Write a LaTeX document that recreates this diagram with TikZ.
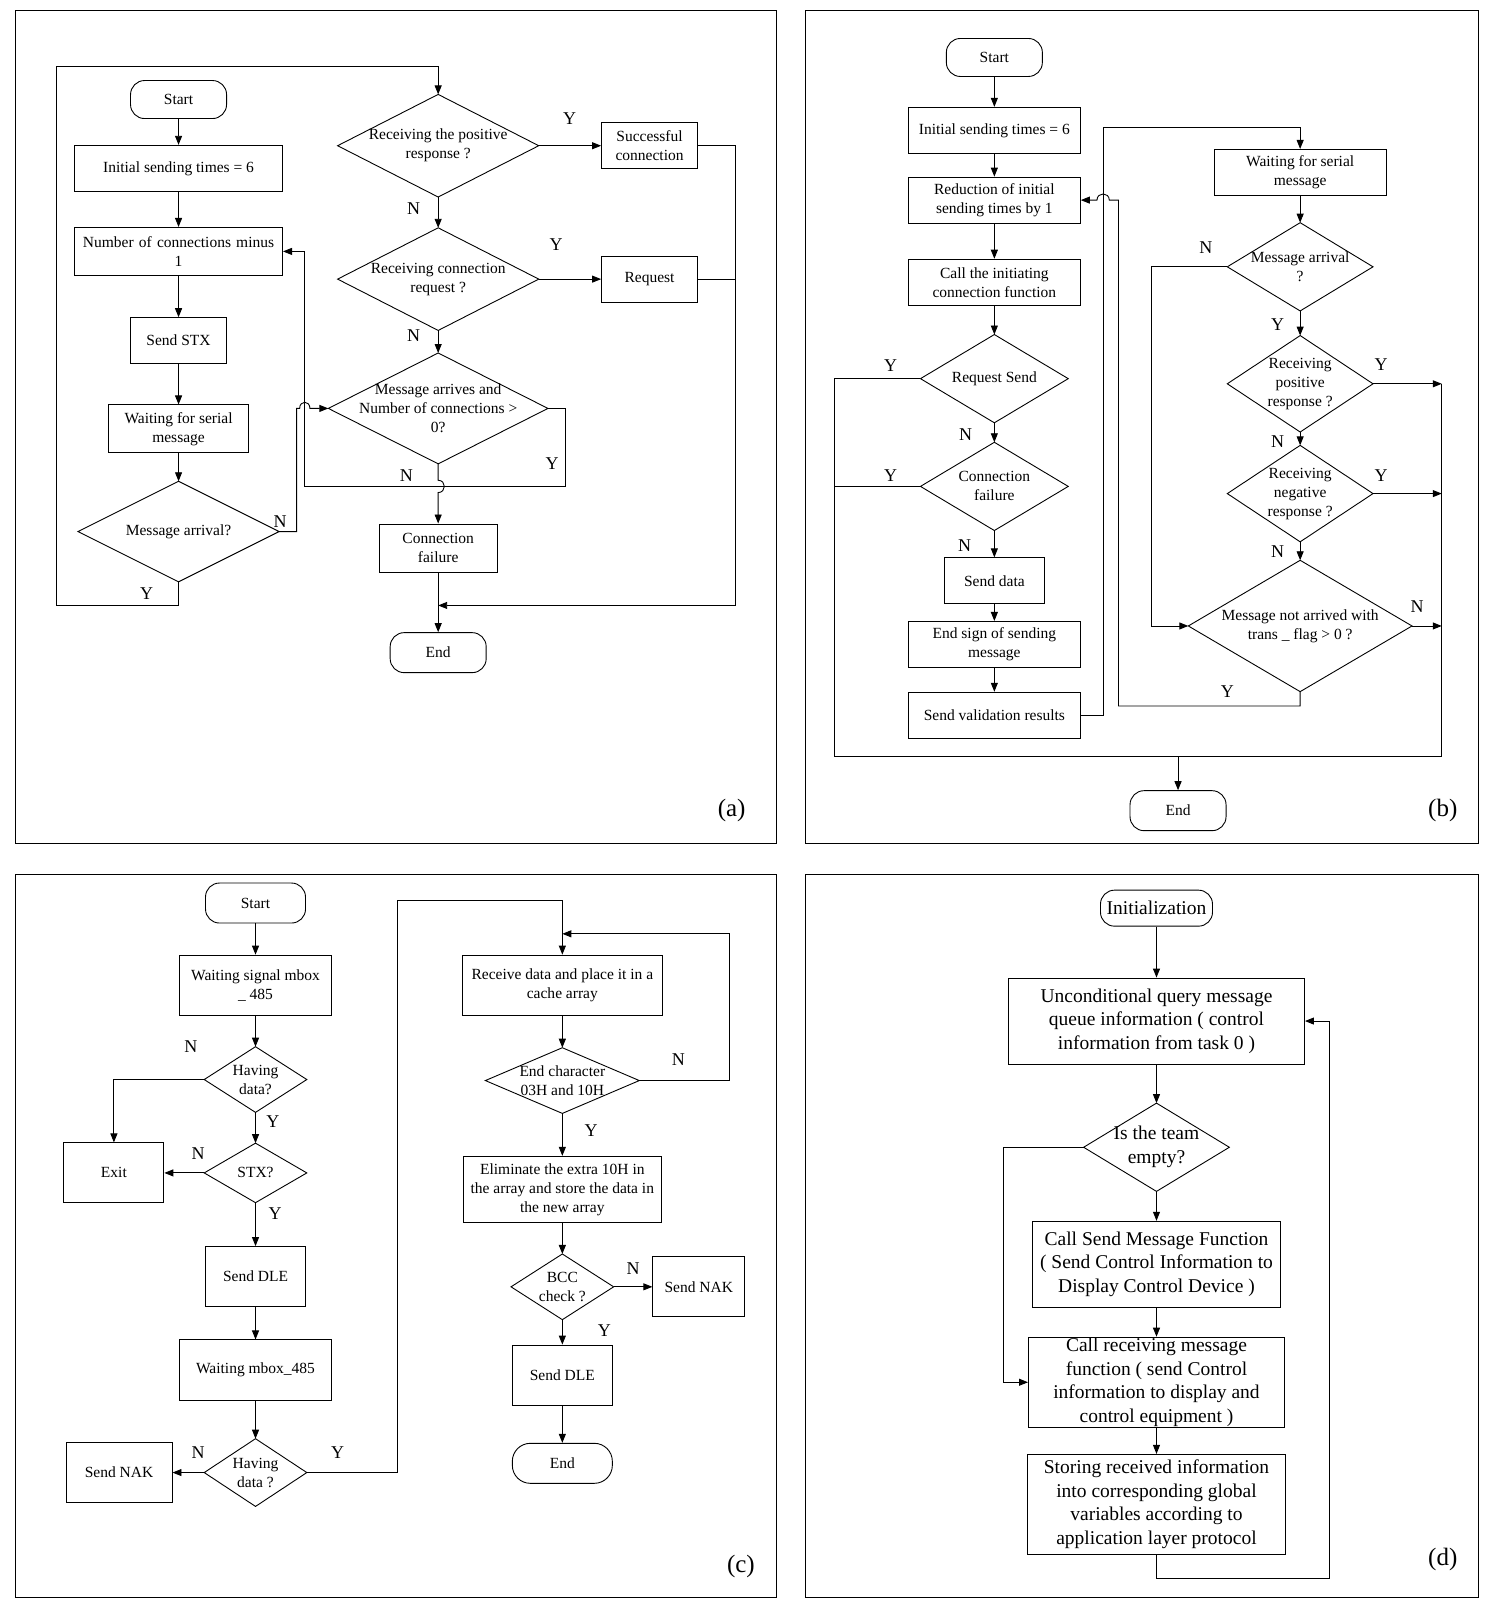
\documentclass[tikz,border=0pt]{standalone}
\usepackage{fontspec}
\setmainfont{Liberation Serif}
\usetikzlibrary{arrows.meta,calc}
\begin{document}
\begin{tikzpicture}[x=1.026pt,y=-1.026pt,
  line width=0.9pt,
  >={Triangle[length=9pt,width=7pt]},
  box/.style={draw,align=center,inner sep=1pt,font=\fontsize{15.5}{19}\selectfont},
  term/.style={box,rounded corners=14pt},
  dbox/.style={draw,align=center,inner sep=1pt,font=\fontsize{19.5}{23.5}\selectfont},
  lab/.style={font=\fontsize{18}{20}\selectfont},
  txt/.style={align=center,font=\fontsize{15.5}{19}\selectfont},
  dtxt/.style={align=center,font=\fontsize{19.5}{24}\selectfont},
  pl/.style={font=\fontsize{25}{27}\selectfont}]
\useasboundingbox (0,0) rectangle (1457,1567);
\newcommand\dia[6]{%
  \coordinate (#1) at (#2,#3);
  \coordinate (#1-n) at (#2,#3-#5/2);
  \coordinate (#1-s) at (#2,#3+#5/2);
  \coordinate (#1-w) at (#2-#4/2,#3);
  \coordinate (#1-e) at (#2+#4/2,#3);
  \draw (#1-n) -- (#1-e) -- (#1-s) -- (#1-w) -- cycle;
  \node[#6] (#1-t) at (#1) {};}
% frames
\draw[line width=1pt] (15,10) rectangle (757,822);
\draw[line width=1pt] (785,10) rectangle (1441,822);
\draw[line width=1pt] (15,852) rectangle (757,1557);
\draw[line width=1pt] (785,852) rectangle (1441,1557);
\node[pl] (pa) at (713,790) {(a)};
\node[pl] (pb) at (1406,790) {(b)};
\node[pl] (pc) at (722,1527) {(c)};
\node[pl] (pd) at (1406,1520) {(d)};

% ================= (a)
\node[term,minimum width=96,minimum height=38] (aS) at (174,97) {Start};
\node[box,minimum width=208,minimum height=46] (aI) at (174,164) {Initial sending times = 6};
\node[box,minimum width=208,minimum height=48,text width=204] (aN) at (174,245) {Number of connections minus\\1};
\node[box,minimum width=96,minimum height=46] (aX) at (174,332) {Send STX};
\node[box,minimum width=140,minimum height=48] (aW) at (174,418) {Waiting for serial\\message};
\dia{aA}{174}{518}{196}{98}{}
\node[txt] at (174,518) {Message arrival?};
\dia{aP}{427}{142}{196}{100}{}
\node[txt] at (427,142) {Receiving the positive\\response ?};
\node[box,minimum width=96,minimum height=46] (aSc) at (633,142) {Successful\\connection};
\dia{aR}{427}{272}{196}{100}{}
\node[txt] at (427,272) {Receiving connection\\request ?};
\node[box,minimum width=96,minimum height=46] (aRq) at (633,272) {Request};
\dia{aM}{427}{398}{214}{108}{}
\node[txt] at (427,398) {Message arrives and\\Number of connections >\\0?};
\node[box,minimum width=118,minimum height=48] (aF) at (427,534) {Connection\\failure};
\node[term,minimum width=96,minimum height=40] (aE) at (427,636) {End};
\draw[->] (aS) -- (aI);
\draw[->] (aI) -- (aN);
\draw[->] (aN) -- (aX);
\draw[->] (aX) -- (aW);
\draw[->] (aW) -- (aA-n);
\draw[->] (aA-s) -- (174,590) -- (55,590) -- (55,65) -- (427,65) -- (aP-n);
\node[lab] (la1) at (143,578) {Y};
\draw[->] (aA-e) -- (289,518) -- (289,398) -- (292,398) .. controls (292,390) and (302,390) .. (302,398) -- (aM-w);
\node[lab] (la2) at (273,508) {N};
\draw[->] (aP-e) -- (aSc.west);
\node[lab] (la3) at (555,116) {Y};
\draw[->] (aP-s) -- (aR-n);
\node[lab] (la4) at (403,203) {N};
\draw[->] (aR-e) -- (aRq.west);
\node[lab] (la5) at (542,238) {Y};
\draw[->] (aR-s) -- (aM-n);
\node[lab] (la6) at (403,327) {N};
\draw[->] (aM-e) -- (551,398) -- (551,474) -- (297,474) -- (297,245) -- (aN.east);
\node[lab] (la7) at (538,452) {Y};
\draw[->] (aM-s) -- (427,468) .. controls (435,468) and (435,480) .. (427,480) -- (aF.north);
\node[lab] (la8) at (396,463) {N};
\draw[->] (aF) -- (aE);
\draw (aSc.east) -- (717,142) -- (717,590);
\draw (aRq.east) -- (717,272);
\draw[->] (717,590) -- (427,590);

% ================= (b)
\node[term,minimum width=96,minimum height=38] (bS) at (969,56) {Start};
\node[box,minimum width=172,minimum height=46] (bI) at (969,127) {Initial sending times = 6};
\node[box,minimum width=172,minimum height=46] (bR) at (969,195) {Reduction of initial\\sending times by 1};
\node[box,minimum width=172,minimum height=46] (bC) at (969,275) {Call the initiating\\connection function};
\dia{bQ}{969}{369}{144}{86}{}
\node[txt] at (969,369) {Request Send};
\dia{bF}{969}{474}{144}{86}{}
\node[txt] at (969,474) {Connection\\failure};
\node[box,minimum width=100,minimum height=46] (bD) at (969,566) {Send data};
\node[box,minimum width=172,minimum height=46] (bEs) at (969,628) {End sign of sending\\message};
\node[box,minimum width=172,minimum height=46] (bV) at (969,697) {Send validation results};
\node[term,minimum width=96,minimum height=40] (bE) at (1148,790) {End};
\node[box,minimum width=172,minimum height=46] (bW) at (1267,168) {Waiting for serial\\message};
\dia{bA}{1267}{260}{142}{86}{}
\node[txt] at (1267,260) {Message arrival\\?};
\dia{bP}{1267}{374}{142}{94}{}
\node[txt] at (1267,374) {Receiving\\positive\\response ?};
\dia{bN}{1267}{481}{142}{94}{}
\node[txt] at (1267,481) {Receiving\\negative\\response ?};
\dia{bM}{1267}{610}{218}{128}{}
\node[txt] at (1267,610) {Message not arrived with\\trans \_ flag > 0 ?};
\draw[->] (bS) -- (bI);
\draw[->] (bI) -- (bR);
\draw[->] (bR) -- (bC);
\draw[->] (bC) -- (bQ-n);
\draw[->] (bQ-s) -- (bF-n);
\node[lab] (lb1) at (941,424) {N};
\draw[->] (bF-s) -- (bD);
\node[lab] (lb2) at (940,532) {N};
\draw[->] (bD) -- (bEs);
\draw[->] (bEs) -- (bV);
\draw (bQ-w) -- (813,369) -- (813,737) -- (1405,737) -- (1405,374);
\node[lab] (lb3) at (868,356) {Y};
\draw (bF-w) -- (813,474);
\node[lab] (lb4) at (868,463) {Y};
\draw[->] (1148,737) -- (bE);
\draw[->] (bV.east) -- (1075,697) -- (1075,124) -- (1267,124) -- (bW.north);
\draw[->] (bW) -- (bA-n);
\draw[->] (bA-w) -- (1122,260) -- (1122,610) -- (bM-w);
\node[lab] (lb5) at (1175,241) {N};
\draw[->] (bA-s) -- (bP-n);
\node[lab] (lb6) at (1245,316) {Y};
\draw[->] (bP-s) -- (bN-n);
\node[lab] (lb7) at (1245,430) {N};
\draw[->] (bN-s) -- (bM-n);
\node[lab] (lb8) at (1245,538) {N};
\draw[->] (bP-e) -- (1405,374);
\node[lab] (lb9) at (1346,355) {Y};
\draw[->] (bN-e) -- (1405,481);
\node[lab] (lb10) at (1346,463) {Y};
\draw[->] (bM-e) -- (1405,610);
\node[lab] (lb11) at (1381,591) {N};
\draw[->] (bM-s) -- (1267,688) -- (1090,688) -- (1090,195) -- (1081,195) .. controls (1081,187) and (1069,187) .. (1069,195) -- (bR.east);
\node[lab] (lb12) at (1196,674) {Y};

% ================= (c)
\node[term,minimum width=100,minimum height=40] (cS) at (249,880) {Start};
\node[box,minimum width=152,minimum height=60] (cW) at (249,960) {Waiting signal mbox\\ \_ 485};
\dia{cH}{249}{1052}{100}{64}{}
\node[txt] at (249,1052) {Having\\data?};
\dia{cX}{249}{1143}{100}{58}{}
\node[txt] at (249,1143) {STX?};
\node[box,minimum width=100,minimum height=60] (cEx) at (111,1143) {Exit};
\node[box,minimum width=100,minimum height=60] (cD) at (249,1244) {Send DLE};
\node[box,minimum width=152,minimum height=60] (cWm) at (249,1335) {Waiting mbox\_485};
\dia{cH2}{249}{1435}{100}{66}{}
\node[txt] at (249,1435) {Having\\data ?};
\node[box,minimum width=106,minimum height=60] (cNk) at (116,1435) {Send NAK};
\node[box,minimum width=200,minimum height=60] (cR) at (548,960) {Receive data and place it in a\\cache array};
\dia{cEc}{548}{1053}{150}{64}{}
\node[txt] at (548,1053) {End character\\03H and 10H};
\node[box,minimum width=198,minimum height=66] (cEl) at (548,1159) {Eliminate the extra 10H in\\the array and store the data in\\the new array};
\dia{cB}{548}{1254}{100}{64}{}
\node[txt] at (548,1254) {BCC\\check ?};
\node[box,minimum width=92,minimum height=60] (cNk2) at (681,1254) {Send NAK};
\node[box,minimum width=100,minimum height=60] (cD2) at (548,1340) {Send DLE};
\node[term,minimum width=100,minimum height=40,rounded corners=18pt] (cE) at (548,1426) {End};
\draw[->] (cS) -- (cW);
\draw[->] (cW) -- (cH-n);
\draw[->] (cH-w) -- (111,1052) -- (cEx.north);
\node[lab] (lc1) at (186,1020) {N};
\draw[->] (cH-s) -- (cX-n);
\node[lab] (lc2) at (266,1093) {Y};
\draw[->] (cX-w) -- (cEx.east);
\node[lab] (lc3) at (193,1124) {N};
\draw[->] (cX-s) -- (cD);
\node[lab] (lc4) at (268,1183) {Y};
\draw[->] (cD) -- (cWm);
\draw[->] (cWm) -- (cH2-n);
\draw[->] (cH2-w) -- (cNk.east);
\node[lab] (lc5) at (193,1416) {N};
\draw[->] (cH2-e) -- (387,1435) -- (387,877) -- (548,877) -- (cR.north);
\node[lab] (lc6) at (329,1416) {Y};
\draw[->] (cR) -- (cEc-n);
\draw[->] (cEc-e) -- (711,1053) -- (711,910) -- (548,910);
\node[lab] (lc7) at (661,1033) {N};
\draw[->] (cEc-s) -- (cEl);
\node[lab] (lc8) at (576,1102) {Y};
\draw[->] (cEl) -- (cB-n);
\draw[->] (cB-e) -- (cNk2.west);
\node[lab] (lc9) at (617,1236) {N};
\draw[->] (cB-s) -- (cD2);
\node[lab] (lc10) at (589,1297) {Y};
\draw[->] (cD2) -- (cE);

% ================= (d)
\node[dbox,rounded corners=14pt,minimum width=112,minimum height=36] (dI) at (1127,885) {Initialization};
\node[dbox,minimum width=296,minimum height=86] (dU) at (1127,995) {Unconditional query message\\queue information ( control\\information from task 0 )};
\dia{dT}{1127}{1118}{142}{86}{}
\node[dtxt] at (1127,1118) {Is the team\\empty?};
\node[dbox,minimum width=248,minimum height=86] (dC) at (1127,1232) {Call Send Message Function\\( Send Control Information to\\Display Control Device )};
\node[dbox,minimum width=256,minimum height=88] (dR) at (1127,1347) {Call receiving message\\function ( send Control\\information to display and\\control equipment )};
\node[dbox,minimum width=258,minimum height=100] (dS) at (1127,1466) {Storing received information\\into corresponding global\\variables according to\\application layer protocol};
\draw[->] (dI) -- (dU);
\draw[->] (dU) -- (dT-n);
\draw[->] (dT-s) -- (dC);
\draw[->] (dC) -- (dR);
\draw[->] (dR) -- (dS);
\draw[->] (dT-w) -- (978,1118) -- (978,1347) -- (dR.west);
\draw[->] (dS.south) -- (1127,1538) -- (1296,1538) -- (1296,995) -- (dU.east);
\end{tikzpicture}
\end{document}
